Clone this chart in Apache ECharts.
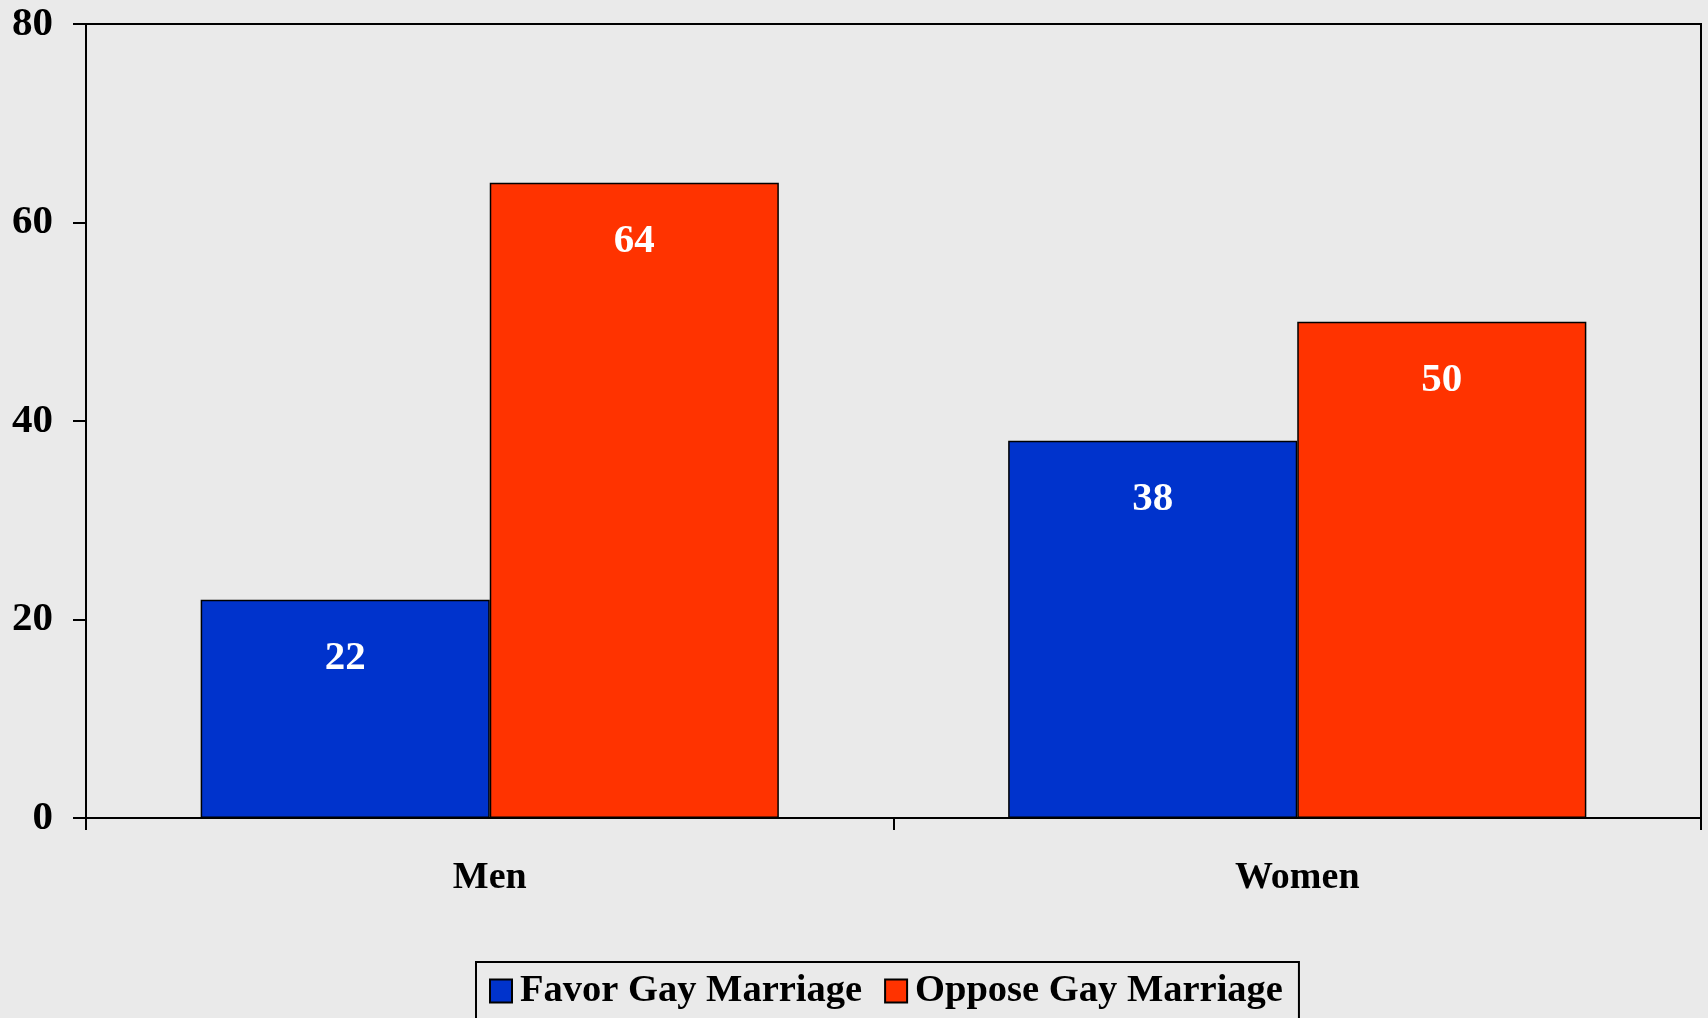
<!DOCTYPE html>
<html>
<head>
<meta charset="utf-8">
<script src="https://cdn.jsdelivr.net/npm/echarts@6/dist/echarts.min.js"></script>
<style>
  html, body { margin: 0; padding: 0; background: #eaeaea; }
  #chart { width: 1708px; height: 1018px; }
</style>
</head>
<body>
<div id="chart"></div>
<script>
const categories = ['Men', 'Women']
const favorValues = [22, 38]
const opposeValues = [64, 50]
const seriesNames = ['Favor Gay Marriage', 'Oppose Gay Marriage']

const serif = '"Liberation Serif", "DejaVu Serif", serif'

const chart = echarts.init(document.getElementById('chart'))

const valueLabel = {
  show: true,
  position: 'insideTop',
  distance: 38,
  color: '#ffffff',
  fontFamily: serif,
  fontWeight: 'bold',
  fontSize: 41
}

chart.setOption({
  backgroundColor: '#eaeaea',
  animation: false,
  grid: {
    left: 86,
    top: 24,
    right: 7,
    bottom: 200,
    containLabel: false,
    show: true,
    borderColor: '#000',
    borderWidth: 2,
    backgroundColor: 'transparent'
  },
  legend: {
    left: 476,
    top: 962,
    padding: [8, 16, 8, 13],
    borderColor: '#000',
    borderWidth: 2,
    icon: 'rect',
    itemWidth: 22,
    itemHeight: 23,
    itemGap: 22,
    textStyle: {
      fontFamily: serif,
      fontWeight: 'bold',
      fontSize: 38.5,
      lineHeight: 42,
      color: '#000',
      padding: [0, 0, 0, 3]
    },
    data: seriesNames
  },
  xAxis: {
    type: 'category',
    data: categories,
    axisLine: { lineStyle: { color: '#000', width: 2 } },
    axisTick: { show: true, alignWithLabel: false, length: 12, lineStyle: { color: '#000', width: 2 } },
    axisLabel: {
      margin: 41,
      color: '#000',
      fontFamily: serif,
      fontWeight: 'bold',
      fontSize: 38
    }
  },
  yAxis: {
    type: 'value',
    min: 0,
    max: 80,
    interval: 20,
    splitLine: { show: false },
    axisLine: { show: true, lineStyle: { color: '#000', width: 2 } },
    axisTick: { show: true, length: 13, lineStyle: { color: '#000', width: 2 } },
    axisLabel: {
      margin: 33,
      color: '#000',
      fontFamily: serif,
      fontWeight: 'bold',
      fontSize: 41
    }
  },
  series: [
    {
      name: seriesNames[0],
      type: 'bar',
      data: favorValues,
      barGap: '0%',
      barCategoryGap: '28.4%',
      itemStyle: { color: '#0033cc', borderColor: '#000', borderWidth: 1.5 },
      label: valueLabel
    },
    {
      name: seriesNames[1],
      type: 'bar',
      data: opposeValues,
      barGap: '0%',
      barCategoryGap: '28.4%',
      itemStyle: { color: '#ff3300', borderColor: '#000', borderWidth: 1.5 },
      label: valueLabel
    }
  ]
})
</script>
</body>
</html>
